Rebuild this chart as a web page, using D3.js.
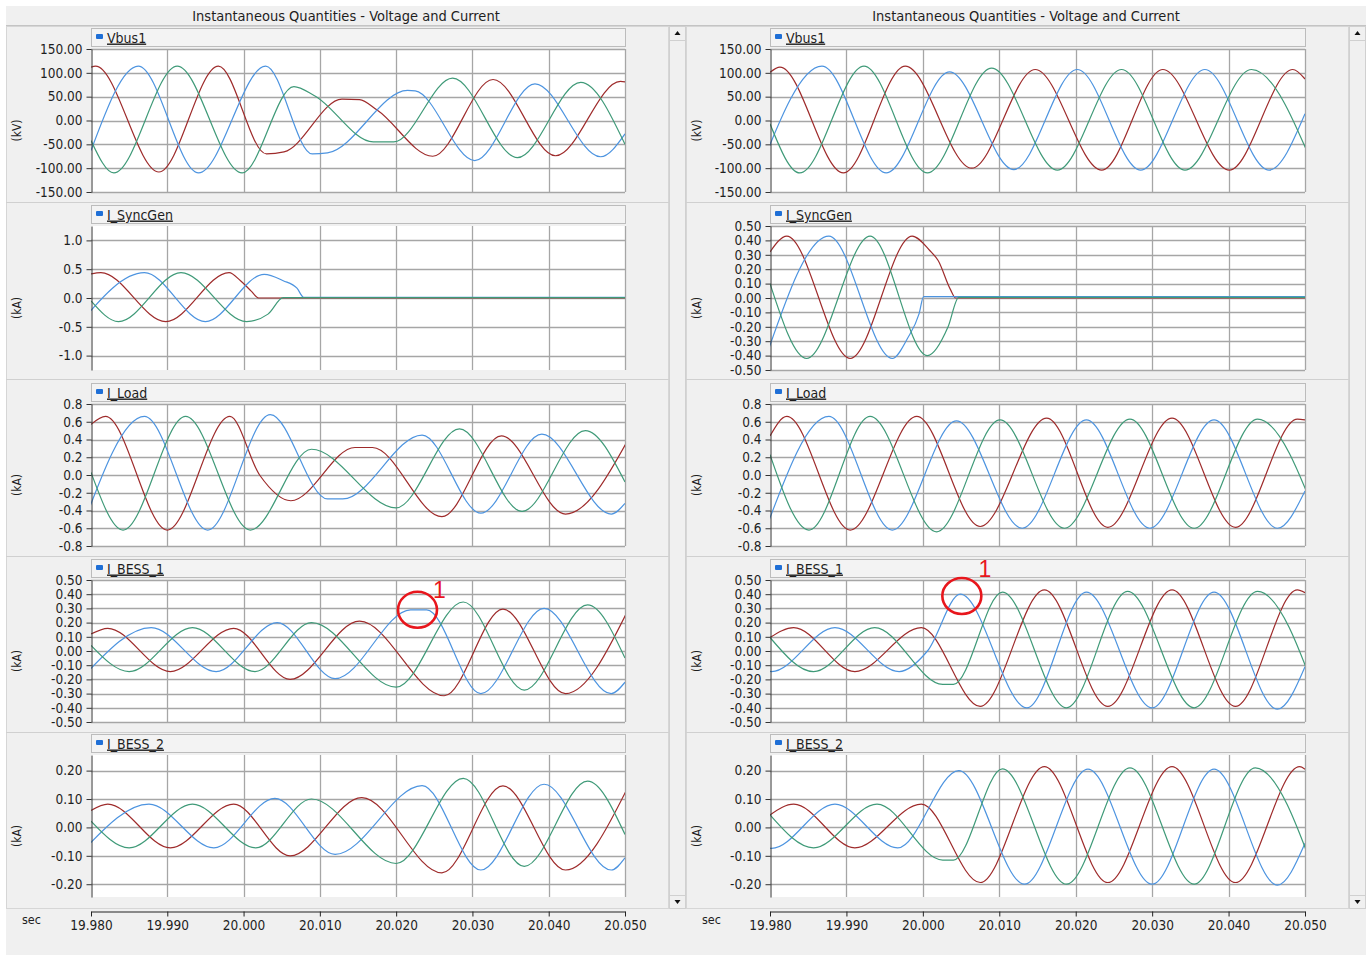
<!DOCTYPE html>
<html>
<head>
<meta charset="utf-8">
<script src="https://cdn.jsdelivr.net/npm/d3@7"></script>
<style>
  body { margin: 0; background: #fff; }
  svg { display: block; }
  text { font-family: "DejaVu Sans Condensed", "DejaVu Sans", sans-serif; fill: #1e1e1e; }
</style>
</head>
<body>
<div id="chart"></div>
<script>
const xTicks = [0, 10, 20, 30, 40, 50, 60, 70];
const xLabels = ["19.980", "19.990", "20.000", "20.010", "20.020", "20.030", "20.040", "20.050"];

const vbusTicks = [150, 100, 50, 0, -50, -100, -150];
const syncTicksL = [1.0, 0.5, 0.0, -0.5, -1.0];
const tenthTicks = [0.5, 0.4, 0.3, 0.2, 0.1, 0.0, -0.1, -0.2, -0.3, -0.4, -0.5];
const loadTicks = [0.8, 0.6, 0.4, 0.2, 0.0, -0.2, -0.4, -0.6, -0.8];
const bess2Ticks = [0.2, 0.1, 0.0, -0.1, -0.2];

// ---- left column
const vbusL_red = [[0,112],[0.6,114],[8.9,-108],[16.7,114],[23.0,-70],[25.3,-66],[32.9,45],[35.2,44],[37.5,22],[44.8,-75],[52.7,86],[60.9,-74],[69.4,82],[70,81]];
const vbusL_blue = [[0,-63],[6.2,114],[14.1,-110],[22.9,114],[29.0,-70],[31.0,-68],[41.5,63],[42.5,62],[50.3,-84],[58.2,77],[66.8,-76],[70,-28]];
const vbusL_green = [[0,-42],[3.0,-110],[11.3,114],[19.8,-110],[26.6,71],[29.3,52],[37.0,-45],[39.7,-45],[47.4,89],[55.9,-78],[64.2,80],[70,-50]];

const syncL_red = [[0,0.42],[1.3,0.44],[9.8,-0.41],[18.1,0.44],[19.6,0.3],[21.0,0.12],[22.0,0.0],[70,0.0]];
const syncL_blue = [[-1.3,-0.41],[7.0,0.44],[15.0,-0.41],[22.7,0.41],[25.2,0.3],[27.0,0.17],[27.9,0.01],[70,0.01]];
const syncL_green = [[0,-0.05],[3.6,-0.41],[11.8,0.44],[20.4,-0.41],[23.2,-0.28],[25.2,0.005],[70,0.005]];

const loadL_red = [[0,0.57],[1.9,0.66],[10.0,-0.62],[18.2,0.66],[22.1,0.0],[26.2,-0.29],[34.6,0.31],[36.9,0.31],[46.0,-0.47],[53.8,0.44],[62.2,-0.44],[70.8,0.46]];
const loadL_blue = [[-1.3,-0.62],[7.0,0.66],[15.3,-0.62],[23.5,0.68],[31.0,-0.27],[33.0,-0.27],[43.4,0.45],[51.1,-0.43],[59.1,0.46],[68.2,-0.44],[70,-0.32]];
const loadL_green = [[0,0.03],[4.2,-0.62],[12.4,0.66],[20.9,-0.62],[28.9,0.29],[40.0,-0.37],[48.3,0.52],[56.5,-0.41],[64.8,0.5],[70,-0.08]];

const bess1L_red = [[0,0.12],[2.2,0.16],[10.4,-0.145],[18.7,0.16],[26.1,-0.2],[35.2,0.21],[46.3,-0.315],[54.0,0.295],[62.2,-0.3],[70.5,0.30]];
const bess1L_blue = [[-0.4,-0.145],[7.9,0.165],[16.4,-0.145],[24.4,0.2],[32.0,-0.195],[41.9,0.29],[44.0,0.29],[51.1,-0.3],[59.4,0.3],[68.2,-0.3],[70,-0.22]];
const bess1L_green = [[0,0.04],[5.0,-0.145],[13.3,0.165],[21.5,-0.145],[28.9,0.2],[40.0,-0.255],[48.8,0.345],[56.8,-0.275],[65.1,0.325],[70,-0.05]];

const bess2L_red = [[0,0.06],[2.2,0.082],[10.4,-0.072],[18.7,0.082],[26.1,-0.1],[35.5,0.105],[46.0,-0.16],[54.0,0.146],[62.2,-0.15],[70.5,0.148]];
const bess2L_blue = [[-0.7,-0.072],[7.6,0.082],[16.1,-0.072],[24.1,0.102],[32.0,-0.095],[43.4,0.147],[51.1,-0.15],[59.4,0.152],[68.2,-0.15],[70,-0.107]];
const bess2L_green = [[0,0.022],[5.0,-0.072],[13.3,0.082],[21.6,-0.072],[28.9,0.1],[40.0,-0.127],[48.8,0.173],[56.8,-0.137],[65.1,0.163],[70,-0.025]];

// ---- right column
const vbusR_red = [[0,101],[1.3,112],[9.6,-110],[17.7,114],[26.4,-100],[34.7,107],[43.4,-104],[51.4,107],[60.1,-104],[68.4,107],[70,87]];
const vbusR_blue = [[-1.5,-110],[6.8,114],[15.2,-110],[23.5,102],[31.9,-103],[40.2,107],[48.5,-104],[56.9,107],[65.3,-104],[70,14]];
const vbusR_green = [[0,-7],[3.9,-110],[12.3,114],[20.6,-110],[29.0,110],[37.6,-104],[46.0,107],[54.3,-104],[63.0,107],[71.3,-104]];

const syncR_red = [[0,0.32],[2.2,0.43],[10.5,-0.42],[18.6,0.43],[20.9,0.33],[22.0,0.26],[23.6,0.06],[24.3,0.0],[70,0.0]];
const syncR_blue = [[-0.6,-0.42],[7.7,0.43],[16.0,-0.42],[18.0,-0.28],[19.5,-0.11],[20.1,0.01],[70,0.01]];
const syncR_green = [[0,0.10],[4.8,-0.42],[13.1,0.43],[20.6,-0.40],[23.3,-0.2],[24.7,0.005],[70,0.005]];

const loadR_red = [[0,0.44],[2.2,0.66],[10.5,-0.62],[19.2,0.66],[27.5,-0.58],[36.2,0.64],[44.2,-0.59],[52.6,0.64],[60.9,-0.59],[69.0,0.63],[70,0.62]];
const loadR_blue = [[-0.6,-0.62],[7.7,0.66],[16.0,-0.62],[24.4,0.61],[33.0,-0.6],[41.4,0.62],[49.7,-0.6],[58.1,0.62],[66.4,-0.6],[70,-0.18]];
const loadR_green = [[0,0.23],[5.1,-0.62],[13.1,0.66],[21.8,-0.64],[30.1,0.62],[38.5,-0.6],[47.1,0.63],[55.5,-0.6],[63.8,0.63],[72.1,-0.6]];

const bess1R_red = [[0,0.095],[3.1,0.165],[11.1,-0.145],[19.8,0.165],[27.5,-0.39],[35.9,0.43],[44.2,-0.39],[52.6,0.43],[60.9,-0.39],[69.0,0.43],[70,0.41]];
const bess1R_blue = [[0,-0.144],[0.2,-0.145],[8.5,0.165],[16.9,-0.145],[20.6,0.0],[24.9,0.40],[33.6,-0.40],[41.4,0.415],[50.0,-0.40],[58.1,0.415],[66.4,-0.41],[70,-0.11]];
const bess1R_green = [[0,0.095],[5.7,-0.145],[13.7,0.165],[22.6,-0.235],[24.0,-0.235],[30.4,0.415],[38.8,-0.40],[46.8,0.42],[55.5,-0.40],[63.8,0.42],[72.1,-0.40]];

const bess2R_red = [[0,0.044],[3.1,0.082],[11.1,-0.072],[19.8,0.082],[27.5,-0.194],[35.9,0.214],[44.2,-0.194],[52.6,0.214],[60.9,-0.194],[69.3,0.214],[70,0.205]];
const bess2R_blue = [[0,-0.073],[0.2,-0.074],[8.5,0.082],[16.7,-0.072],[24.7,0.2],[33.3,-0.2],[41.6,0.205],[50.0,-0.2],[58.1,0.205],[66.4,-0.203],[70,-0.056]];
const bess2R_green = [[0,0.044],[5.7,-0.072],[14.0,0.082],[22.6,-0.115],[24.0,-0.115],[30.4,0.206],[38.8,-0.2],[47.1,0.21],[55.5,-0.2],[63.5,0.21],[71.8,-0.2]];

// red circle marks on I_BESS_1 (ms, kA)
const markT = [42.8, 25.1];
const markV = [0.29, 0.387];

const phaseColors = ["#9e2b2b", "#4d94e0", "#3f9a78"];

/** LAYOUT */
const W = 1369, H = 959;
const rows = [
  { top: 49, bot: 192 }, { top: 226, bot: 370 }, { top: 404, bot: 546 },
  { top: 580, bot: 722 }, { top: 755, bot: 897 }
];
const seps = [202, 379, 556, 732];
const axisY = 911;

const loc = d3.formatLocale({ decimal: ".", thousands: ",", grouping: [3], currency: ["", ""], minus: "-" });
const f1 = loc.format(".1f"), f2 = loc.format(".2f");

const columns = [
  {
    x0: 6, plotL: 91, plotR: 625, labelDx: [22, -12],
    panels: [
      { name: "Vbus1", unit: "(kV)", domain: [-150, 150], ticks: vbusTicks, fmt: f2, series: [vbusL_red, vbusL_blue, vbusL_green] },
      { name: "I_SyncGen", unit: "(kA)", domain: [-1.25, 1.25], ticks: syncTicksL, fmt: f1, series: [syncL_red, syncL_blue, syncL_green] },
      { name: "I_Load", unit: "(kA)", domain: [-0.8, 0.8], ticks: loadTicks, fmt: f1, series: [loadL_red, loadL_blue, loadL_green] },
      { name: "I_BESS_1", unit: "(kA)", domain: [-0.5, 0.5], ticks: tenthTicks, fmt: f2, series: [bess1L_red, bess1L_blue, bess1L_green] },
      { name: "I_BESS_2", unit: "(kA)", domain: [-0.245, 0.255], ticks: bess2Ticks, fmt: f2, series: [bess2L_red, bess2L_blue, bess2L_green] }
    ]
  },
  {
    x0: 686, plotL: 770, plotR: 1305, labelDx: [23, -19],
    panels: [
      { name: "Vbus1", unit: "(kV)", domain: [-150, 150], ticks: vbusTicks, fmt: f2, series: [vbusR_red, vbusR_blue, vbusR_green] },
      { name: "I_SyncGen", unit: "(kA)", domain: [-0.5, 0.5], ticks: tenthTicks, fmt: f2, series: [syncR_red, syncR_blue, syncR_green] },
      { name: "I_Load", unit: "(kA)", domain: [-0.8, 0.8], ticks: loadTicks, fmt: f1, series: [loadR_red, loadR_blue, loadR_green] },
      { name: "I_BESS_1", unit: "(kA)", domain: [-0.5, 0.5], ticks: tenthTicks, fmt: f2, series: [bess1R_red, bess1R_blue, bess1R_green] },
      { name: "I_BESS_2", unit: "(kA)", domain: [-0.245, 0.255], ticks: bess2Ticks, fmt: f2, series: [bess2R_red, bess2R_blue, bess2R_green] }
    ]
  }
];

/** MAIN */
const svg = d3.select("#chart").append("svg").attr("width", W).attr("height", H);
const defs = svg.append("defs");

svg.append("rect").attr("x", 6).attr("y", 6).attr("width", 1360).attr("height", 949).attr("fill", "#f0f0f0");

columns.forEach((col, ci) => {
  const g = svg.append("g");
  const x = d3.scaleLinear().domain([0, 70]).range([col.plotL, col.plotR]);

  // title bar
  g.append("text").attr("x", col.x0 + 340).attr("y", 21).attr("text-anchor", "middle")
    .style("font-size", "14.5px").text("Instantaneous Quantities - Voltage and Current");
  g.append("line").attr("x1", col.x0).attr("x2", col.x0 + 680).attr("y1", 25.5).attr("y2", 25.5)
    .attr("stroke", "#c4c4c4");

  // outer frame + scrollbar
  g.append("rect").attr("x", col.x0 + 0.5).attr("y", 26.5).attr("width", 662).attr("height", 882)
    .attr("fill", "none").attr("stroke", "#d6d6d6");
  const sx = col.x0 + 663;
  g.append("rect").attr("x", sx + 0.5).attr("y", 26.5).attr("width", 16).attr("height", 882)
    .attr("fill", "#f0f0f0").attr("stroke", "#d0d0d0");
  g.append("line").attr("x1", sx).attr("x2", sx + 16).attr("y1", 40.5).attr("y2", 40.5).attr("stroke", "#d0d0d0");
  g.append("line").attr("x1", sx).attr("x2", sx + 16).attr("y1", 895.5).attr("y2", 895.5).attr("stroke", "#d0d0d0");
  g.append("path").attr("d", `M${sx + 5.5},35 L${sx + 11.5},35 L${sx + 8.5},31 Z`).attr("fill", "#111");
  g.append("path").attr("d", `M${sx + 5.5},900 L${sx + 11.5},900 L${sx + 8.5},904 Z`).attr("fill", "#111");

  seps.forEach(s => {
    g.append("line").attr("x1", col.x0).attr("x2", col.x0 + 663).attr("y1", s + 0.5).attr("y2", s + 0.5)
      .attr("stroke", "#d0d0d0");
  });

  col.panels.forEach((p, ri) => {
    const r = rows[ri];
    const y = d3.scaleLinear().domain(p.domain).range([r.bot, r.top]);
    const pg = g.append("g");

    // legend bar
    pg.append("rect").attr("x", col.plotL + 0.5).attr("y", r.top - 20.5).attr("width", col.plotR - col.plotL)
      .attr("height", 18).attr("fill", "#f3f3f3").attr("stroke", "#bcbcbc");
    pg.append("rect").attr("x", col.plotL + 5).attr("y", r.top - 15).attr("width", 7).attr("height", 5)
      .attr("rx", 1).attr("fill", "#1f6fd6");
    pg.append("text").attr("x", col.plotL + 16).attr("y", r.top - 6.5)
      .style("font-size", "14px").style("text-decoration", "underline").text(p.name);

    // plot area
    pg.append("rect").attr("x", col.plotL).attr("y", r.top).attr("width", col.plotR - col.plotL)
      .attr("height", r.bot - r.top).attr("fill", "#fff");

    pg.append("g").selectAll("line").data(p.ticks).join("line")
      .attr("x1", col.plotL).attr("x2", col.plotR)
      .attr("y1", d => Math.round(y(d)) + 0.5).attr("y2", d => Math.round(y(d)) + 0.5)
      .attr("stroke", "#a6a6a6").attr("stroke-width", 1.3);
    pg.append("g").selectAll("line").data(xTicks.slice(1)).join("line")
      .attr("x1", d => Math.round(x(d)) + 0.5).attr("x2", d => Math.round(x(d)) + 0.5)
      .attr("y1", r.top).attr("y2", r.bot)
      .attr("stroke", "#a6a6a6").attr("stroke-width", 1.3);

    const clipId = `clip-${ci}-${ri}`;
    defs.append("clipPath").attr("id", clipId).append("rect")
      .attr("x", col.plotL).attr("y", r.top).attr("width", col.plotR - col.plotL).attr("height", r.bot - r.top);

    const line = d3.line().x(d => x(d[0])).y(d => y(d[1])).curve(d3.curveMonotoneX);
    pg.append("g").attr("clip-path", `url(#${clipId})`)
      .selectAll("path").data(p.series).join("path")
      .attr("d", line)
      .attr("fill", "none")
      .attr("stroke", (d, i) => phaseColors[i])
      .attr("stroke-width", 1.2);

    // y axis
    const ya = pg.append("g").attr("transform", `translate(${col.plotL + 0.5},0)`)
      .call(d3.axisLeft(y).tickValues(p.ticks).tickFormat(p.fmt).tickSize(5).tickSizeOuter(0).tickPadding(4));
    ya.select(".domain").attr("stroke", "#333");
    ya.selectAll(".tick line").attr("stroke", "#333");
    ya.selectAll("text").style("font-size", "13.5px").style("fill", "#1e1e1e").style("font-family", null);

    pg.append("text")
      .attr("transform", `translate(${col.x0 + 15},${(r.top + r.bot) / 2 + 10}) rotate(-90)`)
      .attr("text-anchor", "middle").style("font-size", "12px").text(p.unit);

    // annotation on I_BESS_1
    if (p.name === "I_BESS_1") {
      const cx = x(markT[ci]), cy = y(markV[ci]);
      pg.append("ellipse").attr("cx", cx).attr("cy", cy).attr("rx", 19.5).attr("ry", 18)
        .attr("fill", "none").attr("stroke", "#e8161c").attr("stroke-width", 2.6);
      pg.append("text").attr("x", cx + col.labelDx[0]).attr("y", cy + col.labelDx[1])
        .attr("text-anchor", "middle").style("font-size", "23px").style("font-family", "Liberation Sans, Arial, sans-serif")
        .style("fill", "#e8161c").text("1");
    }
  });

  // time axis
  const xa = g.append("g").attr("transform", `translate(0,${axisY + 0.5})`)
    .call(d3.axisBottom(x).tickValues(xTicks).tickFormat((d, i) => xLabels[i]).tickSize(5).tickSizeOuter(0).tickPadding(4));
  xa.select(".domain").attr("stroke", "#222");
  xa.selectAll(".tick line").attr("stroke", "#222");
  xa.selectAll("text").style("font-size", "13.5px").style("fill", "#1e1e1e").style("font-family", null);
  g.append("text").attr("x", col.x0 + 16).attr("y", 924).style("font-size", "12.5px").text("sec");
});
</script>
</body>
</html>
